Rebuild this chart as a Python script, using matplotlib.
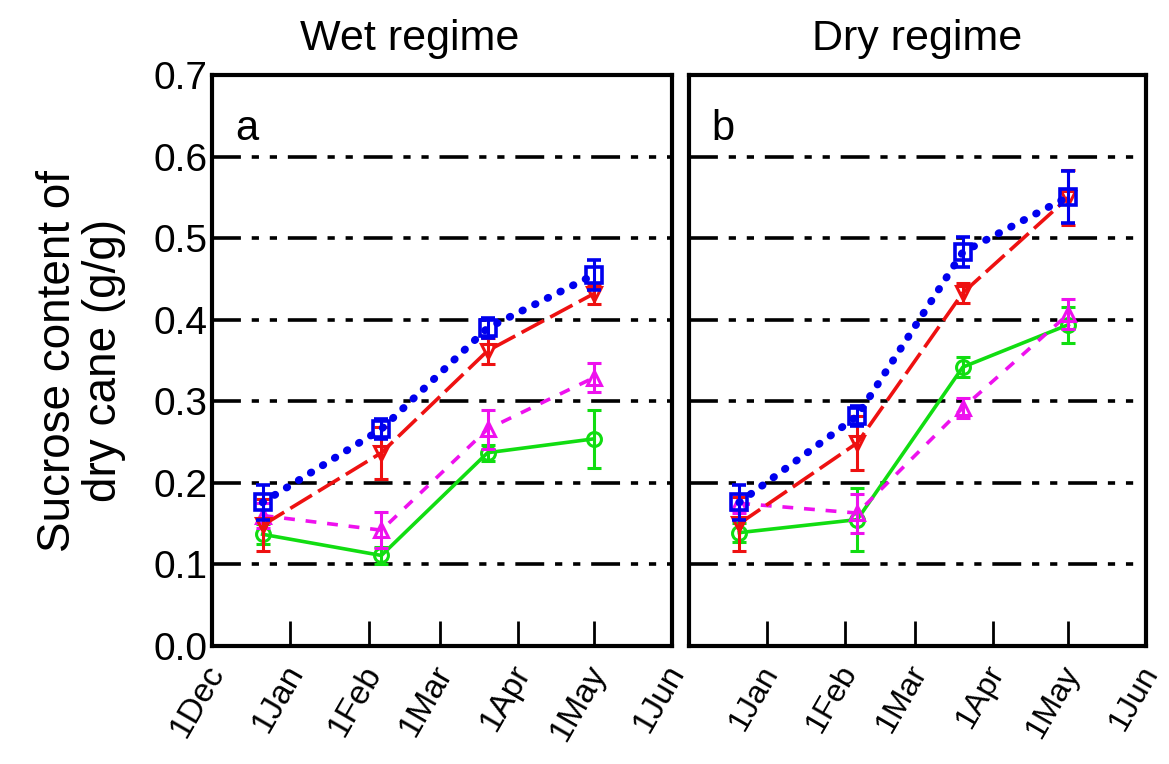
import numpy as np
import matplotlib
matplotlib.use("Agg")
import matplotlib.pyplot as plt
import matplotlib.transforms as mtransforms

plt.rcParams['font.family'] = ['Liberation Sans Narrow', 'Liberation Sans', 'DejaVu Sans']

# sampling dates
dates = np.array(['2000-12-21', '2001-02-06', '2001-03-20', '2001-05-01'], dtype='datetime64[D]')
month_ticks = np.array(['2000-12-01', '2001-01-01', '2001-02-01', '2001-03-01',
                        '2001-04-01', '2001-05-01', '2001-06-01'], dtype='datetime64[D]')
month_labels = ['1Dec', '1Jan', '1Feb', '1Mar', '1Apr', '1May', '1Jun']

panel_titles = ['Wet regime', 'Dry regime']
panel_letters = ['a', 'b']

# Wet regime series (sucrose content g/g) and error
wet_blue = [0.176, 0.266, 0.390, 0.455]
wet_blue_err = [0.022, 0.012, 0.012, 0.018]
wet_red = [0.148, 0.237, 0.362, 0.432]
wet_red_err = [0.032, 0.032, 0.016, 0.012]
wet_magenta = [0.160, 0.142, 0.266, 0.329]
wet_magenta_err = [0.015, 0.022, 0.024, 0.018]
wet_green = [0.137, 0.111, 0.237, 0.254]
wet_green_err = [0.012, 0.010, 0.010, 0.036]

# Dry regime
dry_blue = [0.176, 0.282, 0.483, 0.551]
dry_blue_err = [0.022, 0.012, 0.018, 0.032]
dry_red = [0.150, 0.249, 0.433, 0.550]
dry_red_err = [0.033, 0.033, 0.012, 0.034]
dry_magenta = [0.175, 0.163, 0.292, 0.407]
dry_magenta_err = [0.012, 0.024, 0.012, 0.018]
dry_green = [0.139, 0.155, 0.342, 0.394]
dry_green_err = [0.012, 0.039, 0.012, 0.022]

BLUE = '#0000ee'
RED = '#ee1111'
MAG = '#ee11ee'
GREEN = '#11dd11'

fig = plt.figure(figsize=(11.69, 7.64), dpi=100)
ax1 = fig.add_axes([0.1814, 0.1545, 0.3935, 0.747])
ax2 = fig.add_axes([0.5894, 0.1545, 0.391, 0.747])

panels = [
    (ax1, wet_green, wet_green_err, wet_magenta, wet_magenta_err,
     wet_red, wet_red_err, wet_blue, wet_blue_err),
    (ax2, dry_green, dry_green_err, dry_magenta, dry_magenta_err,
     dry_red, dry_red_err, dry_blue, dry_blue_err),
]

title_x = [0.43, 0.5]

for i, (ax, g, ge, m, me, r, re_, b, be) in enumerate(panels):
    for yv in [0.1, 0.2, 0.3, 0.4, 0.5, 0.6]:
        ax.axhline(yv, color='black', lw=2.6, linestyle=(0, (8, 3, 2, 3, 2, 3)), zorder=1)
    ax.errorbar(dates, g, yerr=ge, color=GREEN, lw=2.6, ls='-', marker='o', ms=10,
                mfc='none', mec=GREEN, mew=2.2, capsize=5, elinewidth=2.2, capthick=2.2, zorder=3)
    ax.errorbar(dates, m, yerr=me, color=MAG, lw=2.6, ls=(0, (3, 3)), marker='^', ms=10,
                mfc='none', mec=MAG, mew=2.2, capsize=5, elinewidth=2.2, capthick=2.2, zorder=4)
    ax.errorbar(dates, r, yerr=re_, color=RED, lw=2.6, ls=(0, (7, 2)), marker='v', ms=10,
                mfc='none', mec=RED, mew=2.2, capsize=5, elinewidth=2.2, capthick=2.2, zorder=5)
    ax.errorbar(dates, b, yerr=be, color=BLUE, lw=5.5, ls=(0, (0.1, 1.75)), marker='s', ms=11,
                mfc='none', mec=BLUE, mew=2.6, capsize=5, elinewidth=2.2, capthick=2.2,
                dash_capstyle='round', zorder=6)

    ax.set_xlim(month_ticks[0], month_ticks[-1])
    ax.set_ylim(0.0, 0.7)
    ax.set_xticks(month_ticks)
    if i == 0:
        ax.set_xticklabels(month_labels, rotation=60, ha='right', rotation_mode='anchor',
                           fontsize=24)
        ax.set_yticks(np.arange(0, 0.71, 0.1))
        ax.set_yticklabels(['%.1f' % v for v in np.arange(0, 0.71, 0.1)], fontsize=28)
        ax.set_ylabel('Sucrose content of\ndry cane (g/g)', fontsize=33, labelpad=20,
                      linespacing=1.05)
    else:
        ax.set_xticklabels([''] + month_labels[1:], rotation=60, ha='right',
                           rotation_mode='anchor', fontsize=23)
        ax.set_yticks(np.arange(0, 0.71, 0.1))
        ax.set_yticklabels([])
    ax.tick_params(axis='x', direction='in', length=18, width=2, pad=10)
    ax.tick_params(axis='y', length=0, pad=3)
    offset = mtransforms.ScaledTranslation(-8 / 100, 0, fig.dpi_scale_trans)
    for lab in ax.get_xticklabels():
        lab.set_transform(lab.get_transform() + offset)
    for s in ax.spines.values():
        s.set_linewidth(3)
    ax.set_title(panel_titles[i], fontsize=31, pad=18, x=title_x[i])
    ax.text(0.05, 0.905, panel_letters[i], transform=ax.transAxes, fontsize=30,
            va='center', ha='left')

fig.savefig('out.png', dpi=100)
